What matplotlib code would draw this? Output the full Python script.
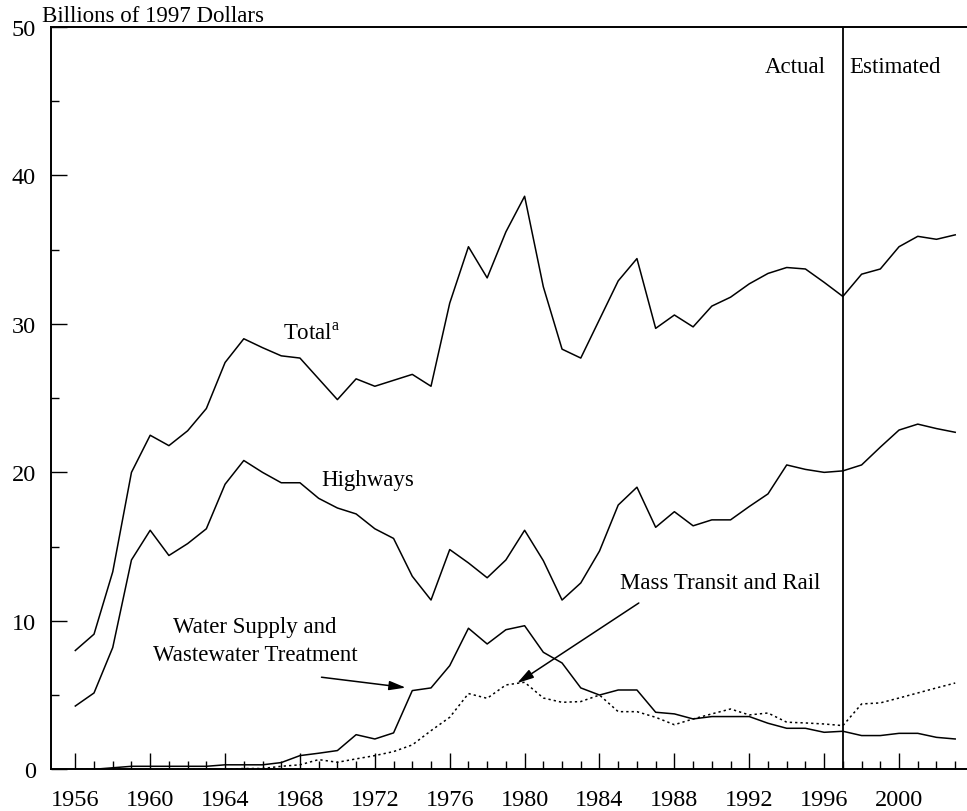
import numpy as np
import matplotlib
matplotlib.use("Agg")
import matplotlib.pyplot as plt
from matplotlib.ticker import MultipleLocator, FixedLocator

plt.rcParams["font.family"] = ["Liberation Serif", "DejaVu Serif"]

years = list(range(1956, 2004))

total = [8.0, 9.1, 13.3, 20.0, 22.5, 21.8, 22.8, 24.3, 27.4, 29.0,
         28.4, 27.85, 27.7, 26.3, 24.9, 26.3, 25.8, 26.2, 26.6, 25.8,
         31.4, 35.2, 33.1, 36.2, 38.6, 32.5, 28.3, 27.7, 30.3, 32.9,
         34.4, 29.7, 30.6, 29.8, 31.2, 31.8, 32.7, 33.4, 33.8, 33.7,
         32.8, 31.85, 33.35, 33.7, 35.2, 35.9, 35.7, 36.0]

highways = [4.26, 5.14, 8.2, 14.1, 16.1, 14.4, 15.2, 16.2, 19.2, 20.8,
            20.0, 19.3, 19.3, 18.25, 17.6, 17.2, 16.2, 15.55, 13.0, 11.4,
            14.8, 13.9, 12.9, 14.1, 16.1, 14.05, 11.4, 12.55, 14.7, 17.8,
            19.0, 16.3, 17.35, 16.4, 16.8, 16.8, 17.7, 18.55, 20.5, 20.2,
            20.0, 20.1, 20.5, 21.7, 22.85, 23.25, 22.95, 22.7]

water = [0.0, 0.0, 0.1, 0.2, 0.2, 0.2, 0.2, 0.2, 0.3, 0.3,
         0.3, 0.45, 0.92, 1.08, 1.26, 2.33, 2.04, 2.45, 5.3, 5.48,
         6.98, 9.5, 8.44, 9.4, 9.67, 7.88, 7.16, 5.48, 5.0, 5.34,
         5.34, 3.84, 3.73, 3.39, 3.55, 3.55, 3.55, 3.1, 2.76, 2.76,
         2.49, 2.56, 2.27, 2.27, 2.42, 2.42, 2.15, 2.04]

transit = [0.0, 0.0, 0.0, 0.0, 0.0, 0.0, 0.0, 0.0, 0.0, 0.05,
           0.05, 0.2, 0.3, 0.65, 0.47, 0.7, 0.92, 1.19, 1.64, 2.6,
           3.5, 5.1, 4.78, 5.68, 5.86, 4.8, 4.51, 4.56, 5.0, 3.88,
           3.88, 3.5, 3.0, 3.39, 3.73, 4.06, 3.66, 3.79, 3.17, 3.12,
           3.05, 2.94, 4.4, 4.47, 4.8, 5.14, 5.48, 5.81]

fig = plt.figure(figsize=(9.67, 8.12), dpi=100)
ax = fig.add_axes([0.0527, 0.0514, 0.9473, 0.9141])

ax.plot(years, total, color="black", lw=1.1)
ax.plot(years, highways, color="black", lw=1.1)
ax.plot(years, water, color="black", lw=1.1)
ax.plot(years, transit, color="black", lw=1.1, linestyle=(0, (1.5, 2.0)))

# actual / estimated divider
ax.axvline(1997, color="black", lw=1.3)

ax.set_xlim(1954.7, 2003.63)
ax.set_ylim(0, 50)

ax.spines["right"].set_visible(False)
for s in ["left", "top", "bottom"]:
    ax.spines[s].set_linewidth(1.4)

ax.xaxis.set_major_locator(FixedLocator(range(1956, 2001, 4)))
ax.xaxis.set_minor_locator(FixedLocator(years))
ax.yaxis.set_major_locator(MultipleLocator(10))
ax.yaxis.set_minor_locator(MultipleLocator(5))
ax.tick_params(which="both", direction="in", top=False, right=False, width=1.0, labelsize=17.5)
ax.tick_params(which="major", length=11.5)
ax.tick_params(which="minor", length=5.5)
ax.tick_params(axis="x", which="major", pad=14)
ax.tick_params(axis="y", which="major", pad=11)

fig.text(42 / 967, 1 - 22 / 812, "Billions of 1997 Dollars", fontsize=16.5, ha="left", va="baseline")

ax.text(1968.6, 29.0, "Total$^{\\mathregular{a}}$", fontsize=16.5, ha="center", va="baseline")
ax.text(1971.6, 19.5, "Highways", fontsize=16.5, ha="center", va="center")
ax.text(1965.6, 8.7, "Water Supply and\nWastewater Treatment", fontsize=16.5,
        ha="center", va="center", linespacing=1.45)
ax.text(1985.1, 12.55, "Mass Transit and Rail", fontsize=16.5, ha="left", va="center")
ax.text(1996.1, 47.36, "Actual", fontsize=16.5, ha="right", va="center")
ax.text(1997.35, 47.36, "Estimated", fontsize=16.5, ha="left", va="center")

arrow = dict(arrowstyle="-|>,head_length=1.0,head_width=0.28", color="black", lw=1.1,
             shrinkA=0, shrinkB=0)
ax.annotate("", xy=(1973.65, 5.5), xytext=(1969.15, 6.2), arrowprops=arrow)
ax.annotate("", xy=(1979.6, 5.8), xytext=(1986.1, 11.2), arrowprops=arrow)

fig.savefig("out.png", dpi=100)
